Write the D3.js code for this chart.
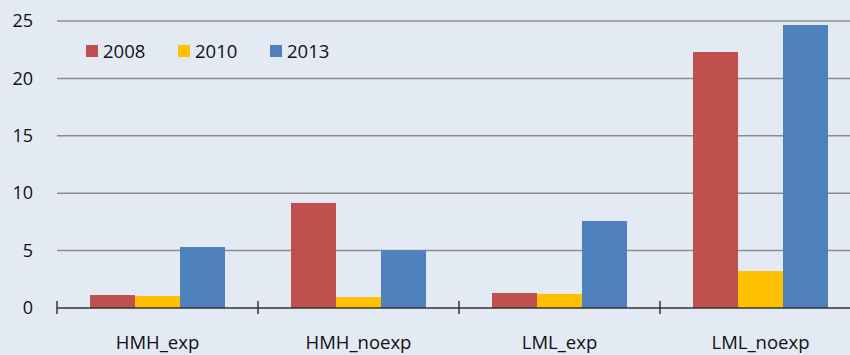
<!DOCTYPE html>
<html>
<head>
<meta charset="utf-8">
<script src="https://cdn.jsdelivr.net/npm/d3@7/dist/d3.min.js"></script>
<style>
  html, body { margin: 0; padding: 0; background: #E4EAF4; }
  svg { display: block; }
  text { font-family: "Open Sans", "Liberation Sans", sans-serif; fill: #111; }
</style>
</head>
<body>
<svg id="chart" width="850" height="355"></svg>
<script>
// Categories, series and tick labels
const categories = ["HMH_exp", "HMH_noexp", "LML_exp", "LML_noexp"];
const seriesNames = ["2008", "2010", "2013"];
const values2008 = [1.13, 9.15, 1.31, 22.3];
const values2010 = [1.05, 0.95, 1.22, 3.22];
const values2013 = [5.31, 5.02, 7.58, 24.65];
const yTicks = [0, 5, 10, 15, 20, 25];
const seriesColors = ["#C0504D", "#FFC000", "#4F81BD"];

const seriesValues = [values2008, values2010, values2013];

const svg = d3.select("#chart");
const W = 850, H = 355;
const margin = { left: 57, top: 21, bottom: 47 };
const plotRight = 861;     // the plot area runs slightly past the canvas edge
const y0 = H - margin.bottom;

svg.append("rect").attr("width", W).attr("height", H).attr("fill", "#E4EAF4");

const x = d3.scaleBand().domain(categories).range([margin.left, plotRight]).paddingInner(0).paddingOuter(0);
const xs = d3.scaleBand().domain(seriesNames).range([0, x.bandwidth()]).paddingInner(0).paddingOuter(0.7333);
const y = d3.scaleLinear().domain([0, 25]).range([y0, margin.top]);

// Horizontal gridlines
svg.append("g")
  .selectAll("line")
  .data(yTicks.filter(t => t > 0))
  .join("line")
  .attr("x1", margin.left).attr("x2", plotRight)
  .attr("y1", d => y(d)).attr("y2", d => y(d))
  .attr("stroke", "#8C8C8C").attr("stroke-width", 1.5);

// Y tick labels
const yAxis = d3.axisLeft(y).tickValues(yTicks).tickSize(0).tickPadding(24);
const gy = svg.append("g").attr("transform", `translate(${margin.left},0)`).call(yAxis);
gy.select(".domain").remove();
gy.selectAll("text").style("font-size", "18px").attr("fill", "#111");

// Bars
const groups = svg.append("g")
  .selectAll("g")
  .data(seriesNames)
  .join("g")
  .attr("fill", (d, i) => seriesColors[i]);

groups.selectAll("rect")
  .data((s, i) => categories.map((c, j) => ({ cat: c, series: s, v: seriesValues[i][j] })))
  .join("rect")
  .attr("x", d => x(d.cat) + xs(d.series))
  .attr("width", xs.bandwidth())
  .attr("y", d => y(d.v))
  .attr("height", d => y(0) - y(d.v));

// Category axis with cross tick marks between categories
const boundaries = categories.map(c => x(c));
const gx = svg.append("g");
gx.append("line")
  .attr("x1", margin.left).attr("x2", plotRight)
  .attr("y1", y0).attr("y2", y0)
  .attr("stroke", "#333").attr("stroke-width", 1.5);
gx.selectAll("line.tick")
  .data(boundaries)
  .join("line")
  .attr("class", "tick")
  .attr("x1", d => d).attr("x2", d => d)
  .attr("y1", y0 - 7).attr("y2", y0 + 6)
  .attr("stroke", "#333").attr("stroke-width", 1.5);
gx.selectAll("text")
  .data(categories)
  .join("text")
  .attr("x", d => x(d) + x.bandwidth() / 2)
  .attr("y", 349)
  .attr("text-anchor", "middle")
  .style("font-size", "18.5px")
  .text(d => d);

// Legend
const legend = svg.append("g").attr("transform", "translate(86,45)");
const items = legend.selectAll("g")
  .data(seriesNames)
  .join("g")
  .attr("transform", (d, i) => `translate(${i * 92},0)`);
items.append("rect").attr("width", 12).attr("height", 12).attr("fill", (d, i) => seriesColors[i]);
items.append("text")
  .attr("x", 17).attr("y", 12.5)
  .style("font-size", "18.5px")
  .text(d => d);
</script>
</body>
</html>
